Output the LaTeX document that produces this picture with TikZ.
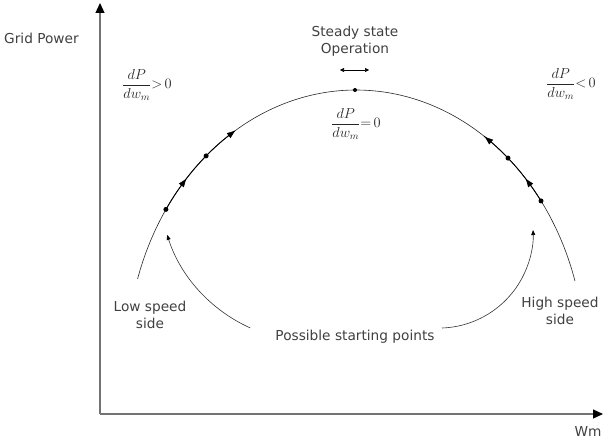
\documentclass[tikz,border=0pt]{standalone}
\usepackage{fontspec}
\setmainfont{DejaVu Sans}
\usetikzlibrary{arrows.meta}
\begin{document}
\begin{tikzpicture}[x=1pt,y=-1pt,
  lbl/.style={font=\fontsize{13.7}{17}\selectfont, text=black!75, align=center, inner sep=0pt},
  mathlbl/.style={font=\fontsize{14}{16}\selectfont, text=black!85, inner sep=0pt},
  dot/.style={circle, fill=black, inner sep=0pt, minimum size=5pt},
  axis/.style={draw=black!55, line width=1.2pt, -{Triangle[length=10pt,width=9pt,color=black]}},
  curve/.style={draw=black!85, line width=0.6pt},
  curvebold/.style={draw=black, line width=0.9pt},
  flow/.style={draw=black, line width=0.6pt, -{Triangle[length=8pt,width=6pt,color=black]}},
  start/.style={draw=black!80, line width=0.6pt, -{Triangle[length=5pt,width=4pt,color=black]}},
  sway/.style={draw=black, line width=0.6pt, {Triangle[length=4pt,width=4pt]}-{Triangle[length=4pt,width=4pt]}}
]
\useasboundingbox (0,0) rectangle (609,441);

% axes
\coordinate (O) at (100,414);
\coordinate (ytip) at (100,3);
\coordinate (xtip) at (603,414);
\draw[axis] (O) -- (ytip);
\draw[axis] (O) -- (xtip);
\node[lbl, anchor=west] (gp) at (4,38) {Grid Power};
\node[lbl] (wm) at (588,431) {Wm};

% power curve
\draw[curve] plot[domain=162.5:17, samples=150] ({356+229*cos(\x)},{360-270*sin(\x)});
\draw[curvebold] plot[domain=146.1:122, samples=40] ({356+229*cos(\x)},{360-270*sin(\x)});
\draw[curvebold] plot[domain=36.1:56, samples=40] ({356+229*cos(\x)},{360-270*sin(\x)});

% dots
\node[dot] (d1) at (165.9,209.4) {};
\node[dot] (d2) at (206.1,155.9) {};
\node[dot, minimum size=4pt] (top) at (355,90) {};
\node[dot] (d3) at (508.0,158.1) {};
\node[dot] (d4) at (541.0,200.9) {};

% flow arrows on curve
\coordinate (a1t) at (180.6,186.4); \coordinate (a1h) at (186.1,179.0);
\coordinate (a2t) at (227.9,136.2); \coordinate (a2h) at (235.0,130.8);
\coordinate (a3t) at (531.4,186.4); \coordinate (a3h) at (525.9,179.0);
\coordinate (a4t) at (491.9,142.7); \coordinate (a4h) at (485.0,137.0);
\draw[flow] (a1t) -- (a1h);
\draw[flow] (a2t) -- (a2h);
\draw[flow] (a3t) -- (a3h);
\draw[flow] (a4t) -- (a4h);

% steady state
\node[lbl] (ss) at (355,41.5) {Steady state\\Operation};
\coordinate (sa) at (340,70);
\coordinate (sb) at (369,70);
\draw[sway] (sa) -- (sb);

% derivative labels
\node[mathlbl] (gt) at (147,85) {$\displaystyle\frac{dP}{dw_m}{>}\,0$};
\node[mathlbl] (lt) at (571,84) {$\displaystyle\frac{dP}{dw_m}{<}\,0$};
\node[mathlbl] (eq) at (356,124) {$\displaystyle\frac{dP}{dw_m}{=}\,0$};

% side labels
\node[lbl] (low) at (150,315) {Low speed\\side};
\node[lbl] (high) at (560,311) {High speed\\side};
\node[lbl] (ps) at (355,337) {Possible starting points};

% starting arrows
\coordinate (ls) at (250.2,327.9);
\coordinate (rs) at (442,328);
\draw[start] (ls) arc[start angle=114.2, end angle=162.3, radius=153];
\draw[start] (rs) arc[start angle=88, end angle=-2.2, radius=94.4];
\end{tikzpicture}
\end{document}
